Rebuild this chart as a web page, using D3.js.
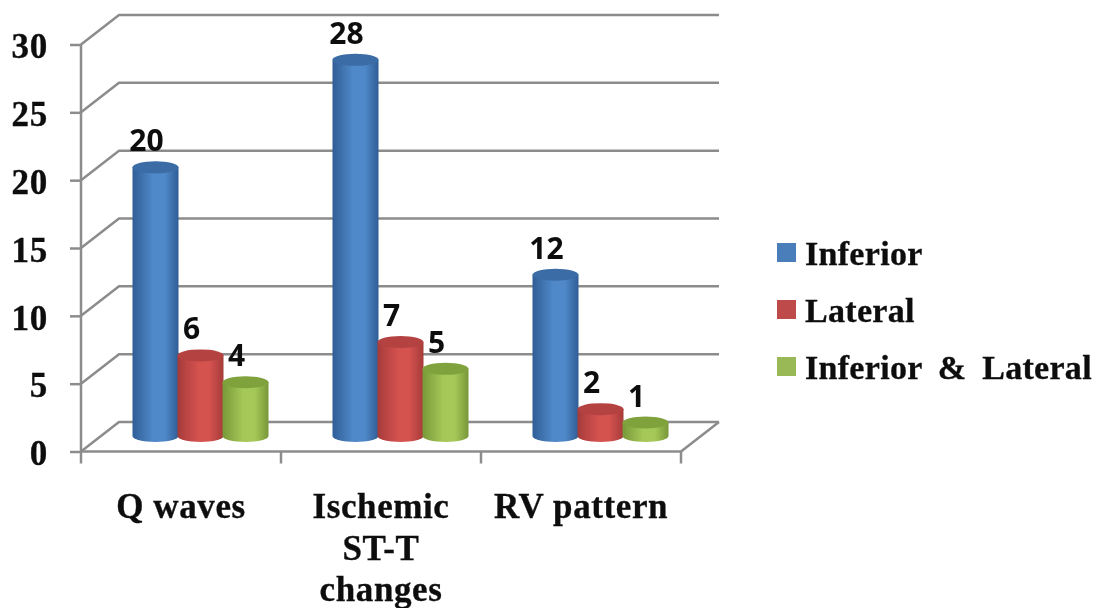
<!DOCTYPE html>
<html>
<head>
<meta charset="utf-8">
<script src="https://cdn.jsdelivr.net/npm/d3@7"></script>
<style>
    html, body { margin: 0; padding: 0; background: #fff; }
    svg { display: block; }
    .serif { font-family: "Liberation Serif", serif; font-weight: bold; fill: #111; stroke: #111; stroke-width: 0.35px; }
    .value { font-family: "Open Sans", sans-serif; font-weight: 700; fill: #111; }
</style>
</head>
<body>
<svg id="chart" width="1096" height="608"></svg>
<script>
const categories = ['Q waves', 'Ischemic ST-T changes', 'RV pattern'];
const categoryLines = [['Q waves'], ['Ischemic', 'ST-T', 'changes'], ['RV pattern']];
const seriesNames = ['Inferior', 'Lateral', 'Inferior & Lateral'];
const inferior = [20, 28, 12];
const lateral = [6, 7, 2];
const inferiorLateral = [4, 5, 1];
const yTicks = [0, 5, 10, 15, 20, 25, 30];

const colors = [
    { edge: '#2f5e96', mid: '#5089c9', top: '#3a6ca6', key: '#4a7ebb' },
    { edge: '#a53b39', mid: '#d45250', top: '#b4423f', key: '#be4b48' },
    { edge: '#789838', mid: '#a6c858', top: '#80a23e', key: '#98b954' },
];

const GRID = '#8c8c8c';
const DEPTH_X = 38, DEPTH_Y = 29.5;
const BAR_W = 46, RY = 6;

const svg = d3.select('#chart');
const defs = svg.append('defs');
defs.append('filter').attr('id', 'soft')
    .append('feGaussianBlur').attr('stdDeviation', 0.55);

colors.forEach((c, i) => {
    const g = defs.append('linearGradient').attr('id', 'cyl' + i);
    g.append('stop').attr('offset', '0%').attr('stop-color', c.edge);
    g.append('stop').attr('offset', '45%').attr('stop-color', c.mid);
    g.append('stop').attr('offset', '70%').attr('stop-color', c.mid);
    g.append('stop').attr('offset', '100%').attr('stop-color', c.edge);
});

const root = svg.append('g').attr('filter', 'url(#soft)');

// front plane of the fake 3d box
const x = d3.scaleBand().domain(categories).range([81, 681]);
const y = d3.scaleLinear().domain([0, 30]).range([451.5, 44.5]);
// bars stand further back in the box, so they get their own scale
const barY = d3.scaleLinear().domain([0, 30]).range([436, 33]);
const bars = d3.scaleBand().domain(seriesNames).range([0, 135]);

const gridG = root.append('g')
    .attr('stroke', GRID).attr('stroke-width', 2.5).attr('fill', 'none');

// back wall lines and the slanted side wall
gridG.selectAll('path.wall')
    .data(yTicks)
    .enter().append('path')
    .attr('class', 'wall')
    .attr('d', d => `M${x.range()[0]},${y(d)}l${DEPTH_X},${-DEPTH_Y}H${x.range()[1] + DEPTH_X}`);

// floor right edge and front line
gridG.append('path')
    .attr('d', `M${x.range()[1]},${y(0)}l${DEPTH_X},${-DEPTH_Y}`);
gridG.append('path')
    .attr('d', `M${x.range()[0]},${y(0)}H${x.range()[1]}`);

// category ticks sit on the band edges, not the centres
const edgeTicks = categories.map(c => x(c)).concat(x.range()[1]);
gridG.selectAll('line.xtick')
    .data(edgeTicks)
    .enter().append('line')
    .attr('class', 'xtick')
    .attr('x1', d => d).attr('x2', d => d)
    .attr('y1', y(0)).attr('y2', y(0) + 12);

const yAxis = d3.axisLeft(y).tickValues(yTicks).tickSize(11).tickPadding(22);
const yG = root.append('g')
    .attr('transform', `translate(${x.range()[0]},0)`)
    .call(yAxis);
yG.select('.domain').attr('stroke', GRID).attr('stroke-width', 2.5)
    .attr('d', `M0,${y(30)}V${y(0)}`);
yG.selectAll('.tick line').attr('stroke', GRID).attr('stroke-width', 2.5);
yG.selectAll('.tick text')
    .attr('class', 'serif')
    .attr('dy', '0.38em')
    .style('font-size', '35px')
    .style('letter-spacing', '0.8px');

// cylinders
const seriesValues = [inferior, lateral, inferiorLateral];
const offset = (x.bandwidth() - bars.range()[1]) / 2 + DEPTH_X / 2;

seriesNames.forEach((name, s) => {
    const g = root.append('g');
    categories.forEach((cat, i) => {
        const v = seriesValues[s][i];
        const left = x(cat) + offset + bars(name);
        const rx = BAR_W / 2;
        const top = barY(v);
        g.append('path')
            .attr('d', `M${left},${top}V${barY(0)}A${rx},${RY} 0 0 0 ${left + BAR_W},${barY(0)}V${top}Z`)
            .attr('fill', `url(#cyl${s})`);
        g.append('ellipse')
            .attr('cx', left + rx).attr('cy', top)
            .attr('rx', rx).attr('ry', RY)
            .attr('fill', colors[s].top);
    });
});

// value labels go on top so the neighbouring bars never cover them
seriesNames.forEach((name, s) => {
    root.append('g').selectAll('text')
        .data(categories)
        .enter().append('text')
        .attr('class', 'value')
        .attr('text-anchor', 'middle')
        .style('font-size', '30px')
        .attr('x', cat => x(cat) + offset + bars(name) + BAR_W / 2 - 9)
        .attr('y', cat => barY(seriesValues[s][categories.indexOf(cat)]) - 16)
        .text(cat => seriesValues[s][categories.indexOf(cat)]);
});

// category labels
const catG = root.append('g').selectAll('text')
    .data(categories)
    .enter().append('text')
    .attr('class', 'serif')
    .attr('text-anchor', 'middle')
    .style('font-size', '35px')
    .style('letter-spacing', '0.6px')
    .attr('y', 518);
catG.each(function (cat, i) {
    d3.select(this).selectAll('tspan')
        .data(categoryLines[i])
        .enter().append('tspan')
        .attr('x', x(cat) + x.bandwidth() / 2)
        .attr('dy', (d, j) => j ? 41.5 : 0)
        .text(d => d);
});

// legend
const legend = d3.scaleBand().domain(seriesNames).range([226, 397]);
const legendG = root.append('g').selectAll('g')
    .data(seriesNames)
    .enter().append('g')
    .attr('transform', d => `translate(777,${legend(d)})`);
legendG.append('rect')
    .attr('y', 17).attr('width', 19).attr('height', 19)
    .attr('fill', (d, i) => colors[i].key);
legendG.append('text')
    .attr('class', 'serif')
    .attr('x', 28).attr('y', 39)
    .style('font-size', '34px')
    .style('letter-spacing', '0.3px')
    .style('word-spacing', '7px')
    .text(d => d);
</script>
</body>
</html>
